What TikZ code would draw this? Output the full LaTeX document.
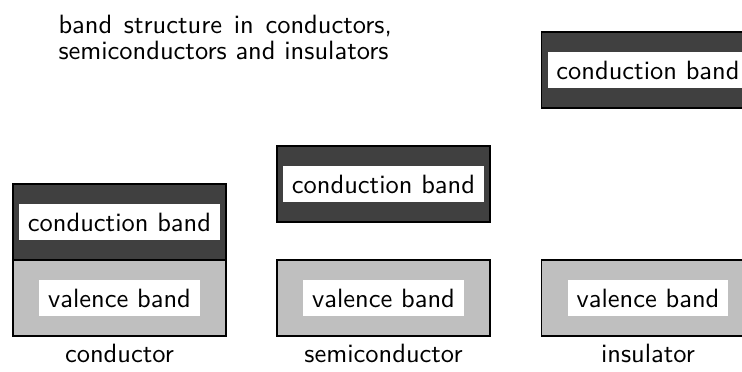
\documentclass[tikz,border=0pt]{standalone}
\begin{document}
\begin{tikzpicture}[x=0.378pt,y=-0.378pt,
  band/.style={draw=black, line width=0.7pt, minimum width=80.5pt, minimum height=28.7pt, inner sep=0pt, outer sep=0pt},
  condband/.style={band, fill=black!75},
  valband/.style={band, fill=black!25},
  bandlabel/.style={fill=white, inner sep=3.33pt, font=\sffamily},
  caption/.style={font=\sffamily, anchor=base, inner sep=0pt},
  titlestyle/.style={font=\sffamily\fontsize{10}{9.8}\selectfont, text width=126pt, align=justify, anchor=north west, inner sep=0pt}]
\useasboundingbox (0,0) rectangle (742,371);
\clip (0,0) rectangle (742,371);
% title
\node[titlestyle] (title) at (58,15) {band structure in conductors, semiconductors and insulators};
% conductor
\node[condband] (cc) at (119.5,222) {};
\node[valband] (cv) at (119.5,298) {};
\node[bandlabel] (ccl) at (cc) {conduction band};
\node[bandlabel] (cvl) at (cv) {valence band};
\node[caption] (ccap) at (119.5,362) {conductor};
% semiconductor
\node[condband] (sc) at (383.5,184) {};
\node[valband] (sv) at (383.5,298) {};
\node[bandlabel] (scl) at (sc) {conduction band};
\node[bandlabel] (svl) at (sv) {valence band};
\node[caption] (scap) at (383.5,362) {semiconductor};
% insulator
\node[condband] (ic) at (648,70) {};
\node[valband] (iv) at (648,298) {};
\node[bandlabel] (icl) at (ic) {conduction band};
\node[bandlabel] (ivl) at (iv) {valence band};
\node[caption] (icap) at (648,362) {insulator};
\end{tikzpicture}
\end{document}
